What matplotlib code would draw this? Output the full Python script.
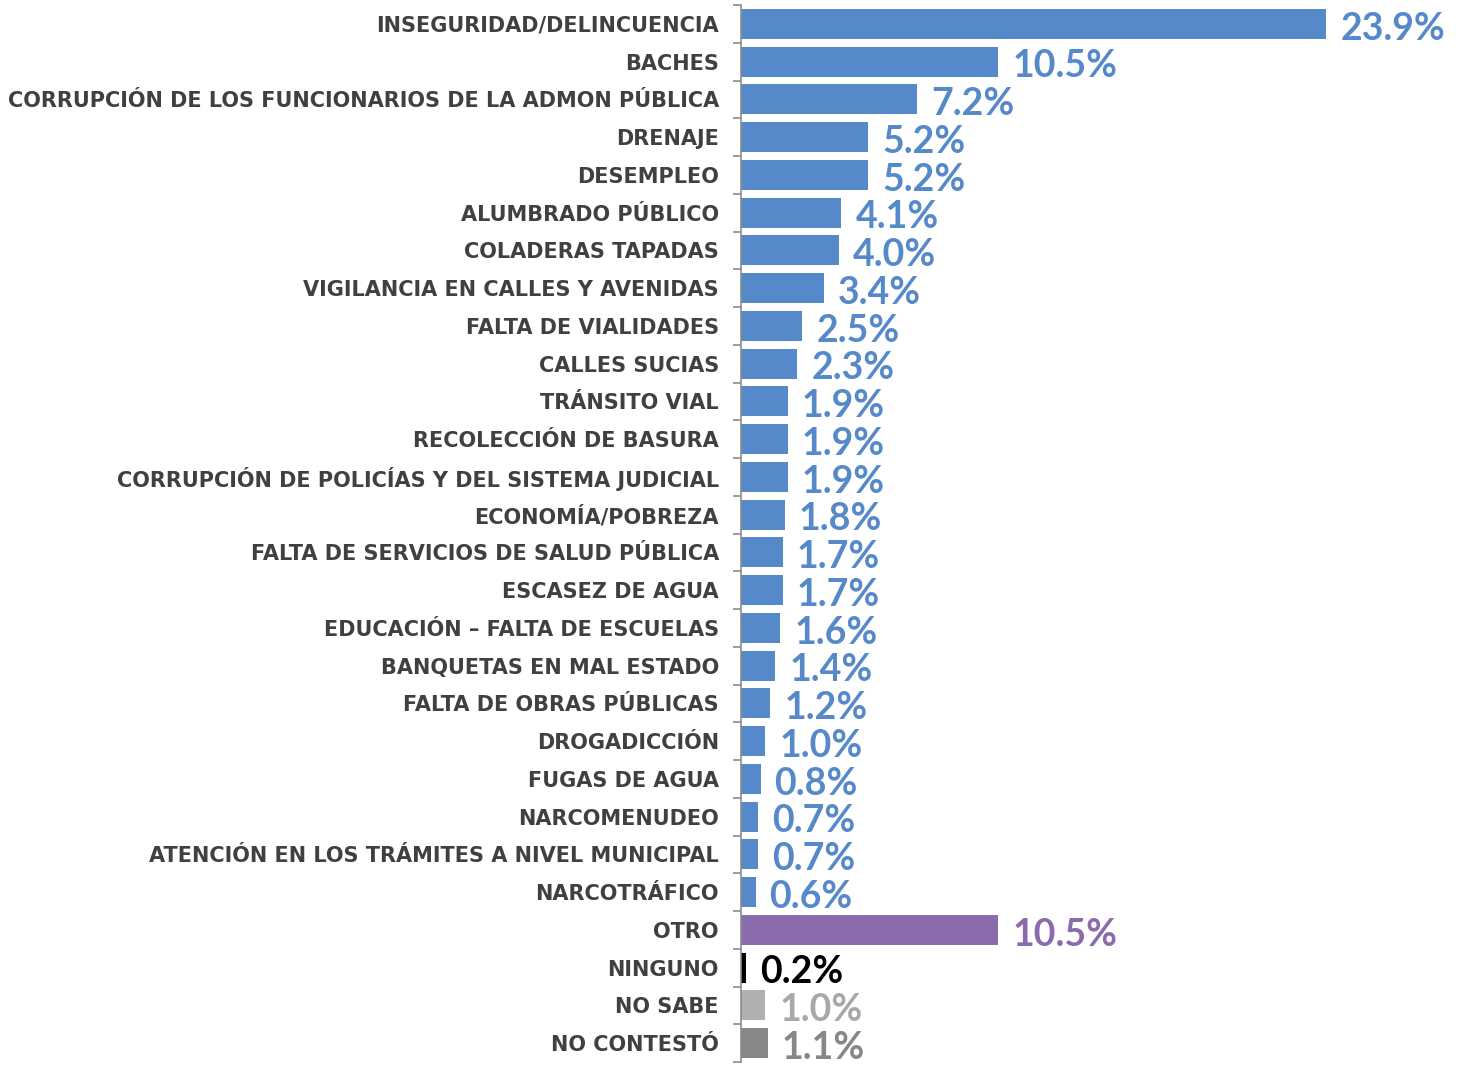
import matplotlib
matplotlib.use("Agg")
import matplotlib.pyplot as plt
from matplotlib.ticker import FixedLocator

categories = [
    "INSEGURIDAD/DELINCUENCIA", "BACHES",
    "CORRUPCIÓN DE LOS FUNCIONARIOS DE LA ADMON PÚBLICA", "DRENAJE", "DESEMPLEO",
    "ALUMBRADO PÚBLICO", "COLADERAS TAPADAS", "VIGILANCIA EN CALLES Y AVENIDAS",
    "FALTA DE VIALIDADES", "CALLES SUCIAS", "TRÁNSITO VIAL", "RECOLECCIÓN DE BASURA",
    "CORRUPCIÓN DE POLICÍAS Y DEL SISTEMA JUDICIAL", "ECONOMÍA/POBREZA",
    "FALTA DE SERVICIOS DE SALUD PÚBLICA", "ESCASEZ DE AGUA",
    "EDUCACIÓN – FALTA DE ESCUELAS", "BANQUETAS EN MAL ESTADO",
    "FALTA DE OBRAS PÚBLICAS", "DROGADICCIÓN", "FUGAS DE AGUA", "NARCOMENUDEO",
    "ATENCIÓN EN LOS TRÁMITES A NIVEL MUNICIPAL", "NARCOTRÁFICO",
    "OTRO", "NINGUNO", "NO SABE", "NO CONTESTÓ",
]
values = [23.9, 10.5, 7.2, 5.2, 5.2, 4.1, 4.0, 3.4, 2.5, 2.3, 1.9, 1.9, 1.9, 1.8,
          1.7, 1.7, 1.6, 1.4, 1.2, 1.0, 0.8, 0.7, 0.7, 0.6, 10.5, 0.2, 1.0, 1.1]

blue = "#5589CA"
colors = [blue] * 24 + ["#8A6BAC", "#000000", "#B0B0B0", "#878787"]
text_colors = [blue] * 24 + ["#8A6BAC", "#000000", "#A8A8A8", "#878787"]

fig = plt.figure(figsize=(14.6, 10.67), dpi=100)
ax = fig.add_axes([741 / 1460, 5 / 1067, 1 - 741 / 1460, 1057 / 1067])

n = len(categories)
y = list(range(n))
ax.barh(y, values, height=0.8, color=colors)
ax.set_ylim(n - 0.5, -0.5)
ax.set_xlim(0, 29.35)

ax.set_yticks(y)
ax.set_yticklabels(categories, fontsize=15, fontweight="bold", color="#404040")
ax.tick_params(axis="y", which="major", length=0, pad=16)
ax.yaxis.set_minor_locator(FixedLocator([i - 0.5 for i in range(n + 1)]))
ax.tick_params(axis="y", which="minor", length=6, width=1.2, color="#8C8C8C", direction="out")
ax.set_xticks([])
for s in ["top", "right", "bottom"]:
    ax.spines[s].set_visible(False)
ax.spines["left"].set_color("#8C8C8C")
ax.spines["left"].set_linewidth(1.2)

for i, (v, c) in enumerate(zip(values, text_colors)):
    ax.annotate(f"{v:.1f}%", xy=(v, i), xytext=(10, -3.5), textcoords="offset points",
                ha="left", va="center", fontsize=27, fontweight="bold", color=c,
                family=["Lato", "DejaVu Sans"])

fig.savefig("out.png", dpi=100)
